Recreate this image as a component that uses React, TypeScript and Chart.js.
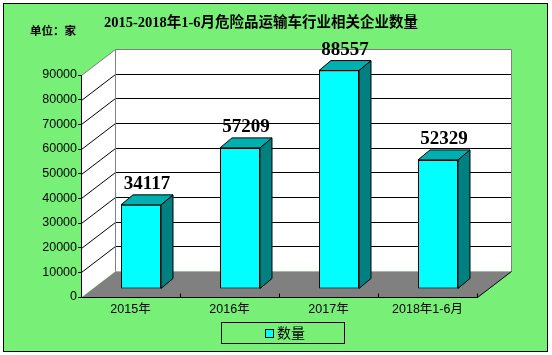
import React, { useEffect, useRef } from "react";
import { Chart, registerables } from "chart.js";

Chart.register(...registerables);

const categories = ["2015年", "2016年", "2017年", "2018年1-6月"];
const values = [34117, 57209, 88557, 52329];
const seriesLabel = "数量";
const yMin = 0;
const yMax = 90000;
const yStep = 10000;
const titleText = "2015-2018年1-6月危险品运输车行业相关企业数量";
const unitText = "单位：家";

const GREEN = "#78F078";
const CYAN = "#00FFFF";
const TOP = "#00B0B0";
const SIDE = "#008080";
const WALL_DX = 34;
const WALL_DY = -26;
const BAR_DX = 10.5;
const BAR_DY = -8;
const DEPTH_DX = 12;
const DEPTH_DY = -10;

const poly = (ctx: CanvasRenderingContext2D, pts: number[][], fill: string, stroke?: string) => {
  ctx.beginPath();
  ctx.moveTo(pts[0][0], pts[0][1]);
  for (let i = 1; i < pts.length; i++) ctx.lineTo(pts[i][0], pts[i][1]);
  ctx.closePath();
  ctx.fillStyle = fill;
  ctx.fill();
  if (stroke) {
    ctx.strokeStyle = stroke;
    ctx.lineWidth = 1;
    ctx.stroke();
  }
};

const line = (ctx: CanvasRenderingContext2D, pts: number[][], color: string) => {
  ctx.beginPath();
  ctx.moveTo(pts[0][0], pts[0][1]);
  for (let i = 1; i < pts.length; i++) ctx.lineTo(pts[i][0], pts[i][1]);
  ctx.strokeStyle = color;
  ctx.lineWidth = 1;
  ctx.stroke();
};

const threeD = {
  id: "threeD",
  beforeDraw(chart: any) {
    const { ctx, width, height } = chart;
    const { left, right } = chart.chartArea;
    const y = chart.scales.y;
    const x = chart.scales.x;
    ctx.save();
    ctx.fillStyle = "#FFFFFF";
    ctx.fillRect(0, 0, width, height);
    ctx.fillStyle = GREEN;
    ctx.fillRect(3, 3, 545, 349);
    ctx.strokeStyle = "#000";
    ctx.lineWidth = 1;
    ctx.strokeRect(3.5, 3.5, 544, 348);

    const L = Math.round(left) + 0.5;
    const R = Math.round(right) + 0.5;
    const T = Math.round(y.getPixelForValue(yMax)) + 0.5;
    const B = Math.round(y.getPixelForValue(yMin)) + 0.5;
    poly(ctx, [[L + WALL_DX, T + WALL_DY], [R + WALL_DX, T + WALL_DY], [R + WALL_DX, B + WALL_DY], [L + WALL_DX, B + WALL_DY]], "#FFFFFF");
    poly(ctx, [[L, T], [L + WALL_DX, T + WALL_DY], [L + WALL_DX, B + WALL_DY], [L, B]], "#FFFFFF");
    poly(ctx, [[L, B], [R, B], [R + WALL_DX, B + WALL_DY], [L + WALL_DX, B + WALL_DY]], "#808080");
    for (let v = yMin + yStep; v < yMax; v += yStep) {
      const yf = Math.round(y.getPixelForValue(v)) + 0.5;
      line(ctx, [[L, yf], [L + WALL_DX, yf + WALL_DY], [R + WALL_DX, yf + WALL_DY]], "#000");
    }
    line(ctx, [[L, T], [L + WALL_DX, T + WALL_DY], [R + WALL_DX, T + WALL_DY], [R + WALL_DX, B + WALL_DY]], "#808080");
    line(ctx, [[L + WALL_DX, T + WALL_DY], [L + WALL_DX, B + WALL_DY]], "#808080");
    line(ctx, [[R, B], [R + WALL_DX, B + WALL_DY]], "#000");
    const n = categories.length;
    for (let i = 1; i <= n; i++) {
      const xp = i < n ? (x.getPixelForValue(i - 1) + x.getPixelForValue(i)) / 2 : right;
      const xr = Math.round(xp) + 0.5;
      line(ctx, [[xr, B - 4], [xr, B]], "#000");
    }
    ctx.fillStyle = "#000";
    ctx.textBaseline = "middle";
    ctx.textAlign = "center";
    ctx.font = 'bold 14.5px "Liberation Serif", "Noto Sans CJK SC"';
    ctx.fillText(titleText, 261, 23);
    ctx.textAlign = "left";
    ctx.font = 'bold 11.5px "Liberation Serif", "Noto Sans CJK SC"';
    ctx.fillText(unitText, 30, 32);
    ctx.restore();
  },
  beforeDatasetsDraw(chart: any) {
    chart.ctx.save();
    chart.ctx.translate(BAR_DX, BAR_DY);
  },
  afterDatasetsDraw(chart: any) {
    const ctx = chart.ctx;
    const meta = chart.getDatasetMeta(0);
    meta.data.forEach((bar: any) => {
      const p = bar.getProps(["x", "y", "base", "width"], true);
      const xl = p.x - p.width / 2;
      const xr = p.x + p.width / 2;
      const yt = p.y;
      const yb = p.base;
      poly(ctx, [[xr, yt], [xr + DEPTH_DX, yt + DEPTH_DY], [xr + DEPTH_DX, yb + DEPTH_DY], [xr, yb]], SIDE, "#000");
      poly(ctx, [[xl, yt], [xr, yt], [xr + DEPTH_DX, yt + DEPTH_DY], [xl + DEPTH_DX, yt + DEPTH_DY]], TOP, "#000");
    });
    ctx.restore();
  },
  afterDraw(chart: any) {
    const ctx = chart.ctx;
    const meta = chart.getDatasetMeta(0);
    const ds = chart.data.datasets[0];
    ctx.save();
    ctx.fillStyle = "#000";
    ctx.textAlign = "center";
    ctx.textBaseline = "alphabetic";
    ctx.font = 'bold 19px "Liberation Serif"';
    meta.data.forEach((bar: any, i: number) => {
      const p = bar.getProps(["x", "y"], true);
      ctx.fillText(String(ds.data[i]), p.x + BAR_DX + DEPTH_DX / 2, p.y + BAR_DY + DEPTH_DY - 6);
    });
    ctx.strokeStyle = "#000";
    ctx.lineWidth = 1;
    ctx.strokeRect(221.5, 322.5, 123, 21);
    ctx.fillStyle = ds.backgroundColor;
    ctx.fillRect(265, 329, 8, 8);
    ctx.strokeRect(265.5, 329.5, 8, 8);
    ctx.fillStyle = "#000";
    ctx.textAlign = "left";
    ctx.textBaseline = "middle";
    ctx.font = '14px "Noto Sans CJK SC"';
    ctx.fillText(ds.label, 277, 333);
    ctx.restore();
  },
};

export default function App() {
  const ref = useRef<HTMLCanvasElement | null>(null);
  useEffect(() => {
    document.body.style.margin = "0";
    if (!ref.current) return;
    const chart = new Chart(ref.current, {
      type: "bar",
      data: {
        labels: categories,
        datasets: [
          {
            label: seriesLabel,
            data: values,
            backgroundColor: CYAN,
            borderColor: "#000",
            borderWidth: 1,
            borderSkipped: false,
            barPercentage: 0.404,
            categoryPercentage: 1,
            clip: false as any,
          },
        ],
      },
      options: {
        responsive: false,
        animation: false,
        devicePixelRatio: 1,
        layout: { padding: { top: 75, left: 0, right: 75, bottom: 28 } },
        plugins: {
          legend: { display: false },
          title: { display: false },
          tooltip: { enabled: false },
        },
        scales: {
          x: {
            grid: { display: false, drawOnChartArea: false, drawTicks: false },
            border: { display: true, color: "#000", width: 1 },
            ticks: {
              color: "#000",
              padding: 5,
              font: { family: '"Liberation Sans", "Noto Sans CJK SC"', size: 12.5 },
              maxRotation: 0,
              autoSkip: false,
            },
            afterFit: (s: any) => {
              s.height = 30;
            },
          },
          y: {
            min: yMin,
            max: yMax,
            grid: { drawOnChartArea: false, drawTicks: true, tickLength: 3, color: "#000" },
            border: { display: true, color: "#000", width: 1 },
            ticks: {
              stepSize: yStep,
              color: "#000",
              padding: 1,
              font: { family: '"Liberation Sans"', size: 12.5 },
              callback: (v: any) => String(v),
            },
            afterFit: (s: any) => {
              s.width = 81;
            },
          },
        },
      },
      plugins: [threeD],
    });
    return () => chart.destroy();
  }, []);
  return <canvas ref={ref} width={552} height={355} style={{ display: "block", width: 552, height: 355 }} />;
}
